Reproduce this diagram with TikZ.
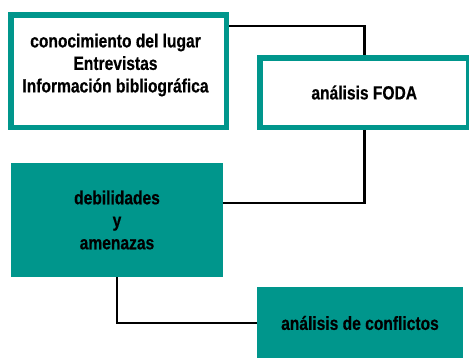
\documentclass[tikz,border=0pt]{standalone}
\usepackage{fontspec}
\setmainfont{Liberation Sans}[FakeStretch=0.82, BoldFeatures={FakeBold=0.5}]
\definecolor{swot}{RGB}{0,150,140}

\begin{document}
\begin{tikzpicture}[x=1pt,y=-1pt]
\tikzstyle{OPEN} = [rectangle, draw=swot, line width=5.5pt, fill=white, inner sep=0pt]
\tikzstyle{FULL} = [rectangle, fill=swot, inner sep=0pt, align=center, font=\bfseries\fontsize{19}{22.5}\selectfont]
\tikzstyle{TXT} = [align=center, font=\bfseries\fontsize{19}{22.5}\selectfont]
\tikzstyle{line} = [line width=2.6pt, -]

    \useasboundingbox (0,0) rectangle (469,357);
    \clip (0,0) rectangle (469,357);

    \node (sources) at (118.5, 71) [OPEN, minimum width=215.5pt, minimum height=112.5pt] {};
    \node (srctext) at (115.5, 65) [TXT] {conocimiento del lugar\\Entrevistas\\Información bibliográfica};

    \node (foda) at (364.25, 92.5) [OPEN, TXT, minimum width=209pt, minimum height=69.5pt] {análisis FODA};

    \node (threats) at (117, 220) [FULL, minimum width=212pt, minimum height=114pt] {debilidades\\y\\amenazas};
    \node (conflicts) at (360, 323) [FULL, minimum width=206pt, minimum height=72pt] {análisis de conflictos};

    \draw [line] ([yshift=45pt]sources.east) -| (foda.north);
    \draw [line] (foda.south) |- ([yshift=17pt]threats.east);
    \draw [line] (threats.south) |- (conflicts.west);
\end{tikzpicture}
\end{document}
